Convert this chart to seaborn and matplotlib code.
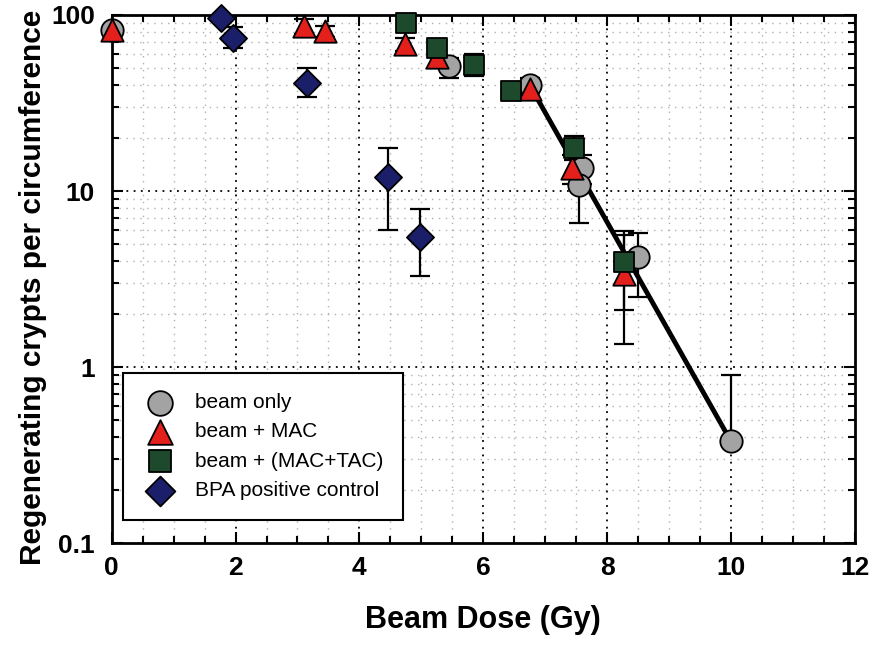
import numpy as np
import pandas as pd
import matplotlib
matplotlib.use("Agg")
import matplotlib.pyplot as plt
import seaborn as sns
from matplotlib.ticker import FixedLocator, NullFormatter, FixedFormatter

# ---- data ----
groups = ["beam only", "beam + MAC", "beam + (MAC+TAC)", "BPA positive control"]

beam_dose = [0.0, 5.45, 6.75, 7.6, 7.55, 8.5, 10.0]
beam_val = [82, 51, 40, 13.5, 10.8, 4.2, 0.38]
beam_lo = [78, 44, 36, 11, 6.6, 2.5, 0.38]
beam_hi = [86, 57, 44, 16, 13, 5.8, 0.9]

mac_dose = [0.0, 3.1, 3.45, 4.73, 5.25, 6.75, 7.43, 8.27]
mac_val = [82, 87, 81, 68, 58, 38, 13.5, 3.4]
mac_lo = [78, 78, 75, 62, 50, 33, 11, 1.35]
mac_hi = [86, 95, 87, 74, 64, 42, 16, 5.6]

tac_dose = [4.75, 5.25, 5.85, 6.45, 7.46, 8.27]
tac_val = [90, 65, 52, 37, 17.5, 3.95]
tac_lo = [86, 60, 45, 34, 15, 2.1]
tac_hi = [95, 70, 60, 40, 20.5, 5.9]

bpa_dose = [1.76, 1.96, 3.15, 4.47, 4.98]
bpa_val = [96, 74, 41, 12, 5.5]
bpa_lo = [96, 65, 34, 6, 3.3]
bpa_hi = [96, 85, 50, 17.5, 7.9]

fit_dose = [6.75, 10.0]
fit_val = [40, 0.38]

x_ticks = [0, 2, 4, 6, 8, 10, 12]
y_ticks = [0.1, 1, 10, 100]
y_tick_labels = ["0.1", "1", "10", "100"]

colors = {"beam only": "#a3a3a3", "beam + MAC": "#e3201c",
          "beam + (MAC+TAC)": "#1d4a2c", "BPA positive control": "#1b1f6a"}
markers = {"beam only": "o", "beam + MAC": "^",
           "beam + (MAC+TAC)": "s", "BPA positive control": "D"}
sizes = {"beam only": 260, "beam + MAC": 260,
         "beam + (MAC+TAC)": 220, "BPA positive control": 190}

frames = []
for g, d, v, lo, hi in [(groups[0], beam_dose, beam_val, beam_lo, beam_hi),
                        (groups[1], mac_dose, mac_val, mac_lo, mac_hi),
                        (groups[2], tac_dose, tac_val, tac_lo, tac_hi),
                        (groups[3], bpa_dose, bpa_val, bpa_lo, bpa_hi)]:
    frames.append(pd.DataFrame({"dose": d, "val": v, "lo": lo, "hi": hi, "group": g}))
df = pd.concat(frames, ignore_index=True)

# ---- style ----
sns.set_theme(style="ticks")
narrow = ["Liberation Sans Narrow", "Liberation Sans", "DejaVu Sans"]
plt.rcParams["font.family"] = ["Liberation Sans", "DejaVu Sans"]
plt.rcParams["text.color"] = "black"
plt.rcParams["axes.labelcolor"] = "black"
plt.rcParams["xtick.color"] = "black"
plt.rcParams["ytick.color"] = "black"

fig = plt.figure(figsize=(8.73, 6.46), dpi=100)
ax = fig.add_axes([0.128, 0.159, 0.851, 0.818])
ax.set_yscale("log")
ax.set_xlim(0, 12)
ax.set_ylim(0.1, 100)

# grids
for xv in np.arange(0.5, 12, 0.5):
    if xv % 2 != 0:
        ax.axvline(xv, color="#b0b0b0", lw=1.0, ls=(0, (1, 4)), zorder=0)
for dec in [0.1, 1, 10]:
    for k in range(2, 10):
        ax.axhline(dec * k, color="#b0b0b0", lw=1.0, ls=(0, (1, 4)), zorder=0)
for xv in [2, 4, 6, 8, 10]:
    ax.axvline(xv, color="black", lw=1.3, ls=(0, (1, 3)), zorder=0)
for yv in [1, 10]:
    ax.axhline(yv, color="black", lw=1.3, ls=(0, (1, 3)), zorder=0)

# error bars
ax.errorbar(df["dose"], df["val"],
            yerr=[df["val"] - df["lo"], df["hi"] - df["val"]],
            fmt="none", ecolor="black", elinewidth=1.6, capsize=7, capthick=1.6,
            zorder=2)

# fit line
sns.lineplot(x=fit_dose, y=fit_val, ax=ax, color="black", lw=3.5, zorder=3)

# points
for g in groups:
    sub = df[df["group"] == g]
    sns.scatterplot(data=sub, x="dose", y="val", ax=ax, color=colors[g],
                    marker=markers[g], s=sizes[g], edgecolor="black",
                    linewidth=1.3, zorder=4, clip_on=False, label=g)

# ticks
ax.xaxis.set_major_locator(FixedLocator(x_ticks))
ax.xaxis.set_minor_locator(FixedLocator(np.arange(0, 12.01, 0.5)))
ax.set_xticklabels([str(t) for t in x_ticks])
ax.yaxis.set_major_locator(FixedLocator(y_ticks))
ax.yaxis.set_major_formatter(FixedFormatter(y_tick_labels))
ax.yaxis.set_minor_locator(FixedLocator([d * k for d in [0.1, 1, 10] for k in range(2, 10)]))
ax.yaxis.set_minor_formatter(NullFormatter())
ax.tick_params(which="both", direction="in", top=True, right=True, width=1.5, colors="black")
ax.tick_params(which="major", length=8)
ax.tick_params(axis="y", which="major", pad=12)
ax.tick_params(axis="x", which="major", pad=9)
ax.tick_params(which="minor", length=5)
for lab in ax.get_xticklabels() + ax.get_yticklabels():
    lab.set_family(narrow)
    lab.set_fontweight("bold")
    lab.set_fontsize(19)
    lab.set_color("black")

for s in ax.spines.values():
    s.set_linewidth(2)
    s.set_color("black")
    s.set_visible(True)

ax.set_xlabel("Beam Dose (Gy)", fontsize=22, fontweight="bold", family=narrow,
              labelpad=18, color="black")
ax.set_ylabel("Regenerating crypts per circumference", fontsize=21.5, fontweight="bold",
              family=["Liberation Sans", "DejaVu Sans"], labelpad=3, color="black")
ax.yaxis.label.set_y(0.485)

h, l = ax.get_legend_handles_labels()
leg = ax.legend(h, l, loc="lower left", bbox_to_anchor=(0.0148, 0.044), fontsize=15,
                frameon=True, fancybox=False, edgecolor="black", framealpha=1,
                borderpad=0.95, labelspacing=0.5, handletextpad=0.8, borderaxespad=0,
                markerscale=1.1, handlelength=1.7)
leg.get_frame().set_linewidth(1.5)
for t in leg.get_texts():
    t.set_color("black")

fig.savefig("out.png", dpi=100)
